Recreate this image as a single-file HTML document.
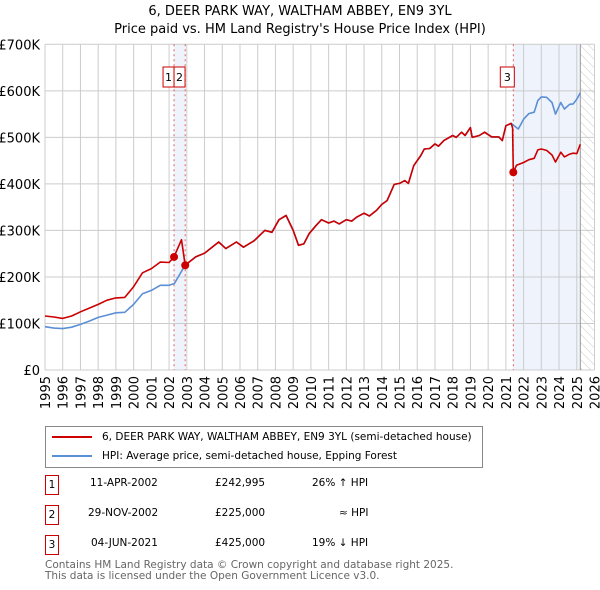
<!DOCTYPE html>
<html><head><meta charset="utf-8"><style>
body{margin:0;background:#fff;font-family:"Liberation Sans","DejaVu Sans",sans-serif;}
#wrap{position:relative;width:600px;height:590px;overflow:hidden;}
svg text{font-family:"DejaVu Sans","Liberation Sans",sans-serif;}
.t{position:absolute;white-space:nowrap;line-height:12px;}
.b{position:absolute;width:12px;height:18px;border:1px solid #cc0000;text-align:center;line-height:18px;}
</style></head><body><div id="wrap">
<svg id="chart" width="600" height="590" xmlns="http://www.w3.org/2000/svg"></svg>
</div>
<script>
const hpiDates=[1995,1995.5,1996,1996.5,1997,1997.5,1998,1998.5,1999,1999.5,2000,2000.5,2001,2001.5,2002,2002.3,2002.9,2003.5,2004,2004.8,2005.2,2005.8,2006.2,2006.8,2007.4,2007.8,2008.2,2008.6,2009.0,2009.3,2009.6,2009.9,2010.3,2010.6,2011,2011.3,2011.6,2012,2012.3,2012.6,2013,2013.3,2013.7,2014,2014.3,2014.7,2015,2015.3,2015.5,2015.8,2016.2,2016.4,2016.7,2017,2017.2,2017.5,2018,2018.2,2018.5,2018.7,2019,2019.1,2019.5,2019.8,2020.2,2020.6,2020.8,2021.0,2021.3,2021.6,2021.7,2022,2022.3,2022.6,2022.8,2023,2023.3,2023.6,2023.8,2024.1,2024.3,2024.6,2024.8,2025.0,2025.2];
const hpiValues=[93,90,89,92,98,105,113,118,123,124,141,164,171,182,182,186,225,243,251,275,261,275,264,278,300,296,323,332,300,268,271,293,311,323,316,320,314,323,320,329,337,331,343,356,364,399,401,407,401,439,461,475,476,486,481,493,504,500,511,504,521,500,504,511,501,501,493,525,530,521,518,539,551,554,579,587,586,575,550,575,561,571,572,582,596];
const redDates=[1995,1995.5,1996,1996.5,1997,1997.5,1998,1998.5,1999,1999.5,2000,2000.5,2001,2001.5,2002,2002.28,2002.7,2002.91,2003.5,2004,2004.8,2005.2,2005.8,2006.2,2006.8,2007.4,2007.8,2008.2,2008.6,2009.0,2009.3,2009.6,2009.9,2010.3,2010.6,2011,2011.3,2011.6,2012,2012.3,2012.6,2013,2013.3,2013.7,2014,2014.3,2014.7,2015,2015.3,2015.5,2015.8,2016.2,2016.4,2016.7,2017,2017.2,2017.5,2018,2018.2,2018.5,2018.7,2019,2019.1,2019.5,2019.8,2020.2,2020.6,2020.8,2021.0,2021.3,2021.38,2021.42,2021.6,2022,2022.3,2022.6,2022.8,2023,2023.3,2023.6,2023.8,2024.1,2024.3,2024.6,2024.8,2025.0,2025.2];
const redValues=[116,114,111,116,125,133,141,150,155,156,179,209,218,232,231,243,280,225,243,251,275,261,275,264,278,300,296,323,332,300,268,271,293,311,323,316,320,314,323,320,329,337,331,343,356,364,399,401,407,401,439,461,475,476,486,481,493,504,500,511,504,521,500,504,511,501,501,493,525,530,520,425,440,446,452,455,473,475,472,462,447,468,458,464,466,465,485];
const saleLabels=["1","2","3"];
const saleDates=[2002.28,2002.91,2021.42];
const saleValues=[242.995,225,425];
const yTicks=[0,100,200,300,400,500,600,700];
const yTickLabels=["£0","£100K","£200K","£300K","£400K","£500K","£600K","£700K"];
const xYears=[1995,1996,1997,1998,1999,2000,2001,2002,2003,2004,2005,2006,2007,2008,2009,2010,2011,2012,2013,2014,2015,2016,2017,2018,2019,2020,2021,2022,2023,2024,2025,2026];

const L=45,R=594.5,T=44.3,B=370,x0=1995,x1=2026,yMax=700;
const X=v=>L+(v-x0)/(x1-x0)*(R-L);
const Y=v=>B-v/yMax*(B-T);
const svg=document.getElementById('chart');
const NS="http://www.w3.org/2000/svg";
function mk(tag,attrs,parent){const e=document.createElementNS(NS,tag);for(const k in attrs)e.setAttribute(k,attrs[k]);(parent||svg).appendChild(e);return e;}

let e;
e=mk('rect',{x:X(saleDates[0]),y:T,width:X(saleDates[1])-X(saleDates[0]),height:B-T,fill:'#eef3fc'});


e=mk('rect',{x:X(saleDates[2]),y:T,width:X(2025.2)-X(saleDates[2]),height:B-T,fill:'#eef3fc'});


const defs=mk('defs',{});
const pat=mk('pattern',{id:'hatch',width:6,height:6,patternUnits:'userSpaceOnUse',patternTransform:'rotate(-45)'},defs);
mk('line',{x1:0,y1:0,x2:0,y2:6,stroke:'#ccc','stroke-width':1},pat);
e=mk('rect',{x:X(2025.2),y:T,width:R-X(2025.2),height:B-T,fill:'url(#hatch)'});



yTicks.forEach((t,i)=>{
  e=mk('line',{x1:L,x2:R,y1:Y(t),y2:Y(t),stroke:'#cccccc','stroke-width':1});
  
  
  e=mk('text',{x:L-5,y:Y(t)+5,'text-anchor':'end','font-size':13,fill:'#000'});
  e.textContent=yTickLabels[i];
  
  
});
xYears.forEach(yr=>{
  e=mk('line',{x1:X(yr),x2:X(yr),y1:T,y2:B,stroke:'#cccccc','stroke-width':1});
  
  
  e=mk('text',{x:0,y:0,'text-anchor':'end','font-size':13,fill:'#000',transform:`translate(${X(yr)+5},${B+6}) rotate(-90)`});
  e.textContent=yr;
  
  
});
e=mk('line',{x1:X(2025.2),x2:X(2025.2),y1:T,y2:B,stroke:'#999','stroke-width':1});



saleDates.forEach(d=>{
  e=mk('line',{x1:X(d),x2:X(d),y1:T,y2:B,stroke:'#e06060','stroke-width':1,'stroke-dasharray':'2,3'});
  
  
});

const pts=(ds,vs)=>ds.map((d,i)=>X(d).toFixed(1)+','+Y(vs[i]).toFixed(1)).join(' ');
e=mk('polyline',{points:pts(hpiDates,hpiValues),fill:'none',stroke:'#5b8fd6','stroke-width':1.6,'stroke-linejoin':'round'});


e=mk('polyline',{points:pts(redDates,redValues),fill:'none',stroke:'#cc0000','stroke-width':1.6,'stroke-linejoin':'round'});


saleDates.forEach((d,i)=>{
  e=mk('circle',{cx:X(d),cy:Y(saleValues[i]),r:4,fill:'#cc0000'});
  
  
});
const boxX=[X(saleDates[0])-11,X(saleDates[0]),X(saleDates[2])-13];
saleLabels.forEach((s,i)=>{
  e=mk('rect',{x:boxX[i],y:67,width:i==2?14:11,height:20,fill:'#fff',stroke:'#cc0000','stroke-width':1});
  
  
  e=mk('text',{x:boxX[i]+(i==2?7:5.5),y:81,'text-anchor':'middle','font-size':11,fill:'#000'});
  e.textContent=s;
  
  
});
</script>
<div style="position:absolute;top:3px;left:0;width:600px;text-align:center;font-size:13px;line-height:18px;font-family:'DejaVu Sans',sans-serif;">6, DEER PARK WAY, WALTHAM ABBEY, EN9 3YL<br>Price paid vs. HM Land Registry's House Price Index (HPI)</div>
<div style="position:absolute;left:45px;top:426px;width:436px;height:40px;border:1px solid #888;font-family:'DejaVu Sans',sans-serif;font-size:10.5px;">
 <div class="t" style="left:6px;top:4px;"><span style="display:inline-block;width:40px;height:2px;background:#cc0000;vertical-align:middle;margin-right:10px;"></span>6, DEER PARK WAY, WALTHAM ABBEY, EN9 3YL (semi-detached house)</div>
 <div class="t" style="left:6px;top:23px;"><span style="display:inline-block;width:40px;height:2px;background:#5b8fd6;vertical-align:middle;margin-right:10px;"></span>HPI: Average price, semi-detached house, Epping Forest</div>
</div>
<div style="position:absolute;left:0;top:0;font-family:'DejaVu Sans',sans-serif;font-size:10.5px;">
 <div>
  <div class="b" style="left:45px;top:475px;">1</div>
  <div class="t" style="left:90px;top:477px;">11-APR-2002</div>
  <div class="t" style="left:215px;top:477px;">£242,995</div>
  <div class="t" style="left:312px;top:477px;">26% ↑ HPI</div>
 </div>
 <div>
  <div class="b" style="left:45px;top:505px;">2</div>
  <div class="t" style="left:88px;top:507px;">29-NOV-2002</div>
  <div class="t" style="left:215px;top:507px;">£225,000</div>
  <div class="t" style="left:339px;top:507px;">≈ HPI</div>
 </div>
 <div>
  <div class="b" style="left:45px;top:535px;">3</div>
  <div class="t" style="left:91px;top:537px;">04-JUN-2021</div>
  <div class="t" style="left:215px;top:537px;">£425,000</div>
  <div class="t" style="left:312px;top:537px;">19% ↓ HPI</div>
 </div>
</div>
<div style="position:absolute;left:45px;top:560px;font-family:'DejaVu Sans',sans-serif;font-size:10.5px;line-height:11px;color:#666;white-space:nowrap;">Contains HM Land Registry data © Crown copyright and database right 2025.<br>This data is licensed under the Open Government Licence v3.0.</div>
</body></html>
